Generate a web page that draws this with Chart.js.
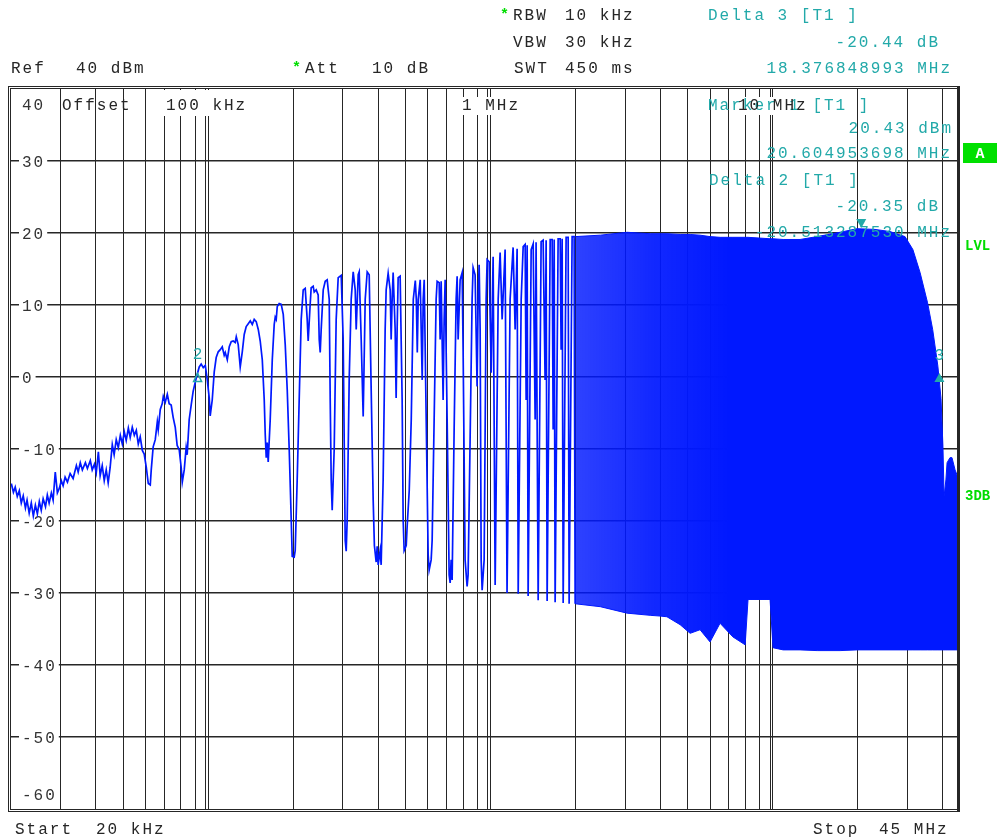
<!DOCTYPE html>
<html>
<head>
<meta charset="utf-8">
<script src="https://cdn.jsdelivr.net/npm/chart.js"></script>
<style>
  html, body { margin: 0; padding: 0; background: #fff; }
  canvas { display: block; }
</style>
</head>
<body>
<canvas id="myChart" width="1000" height="840"></canvas>
<script>
// trace: frequency in kHz, level in dBm
const traceFreq = [
  20.05,20.4,20.7,21.05,21.4,21.75,22.1,22.5,22.8,23.2,
  23.6,24.0,24.4,24.8,25.2,25.6,26.0,26.5,26.9,27.3,
  27.8,28.2,28.7,29.2,29.7,30.15,30.6,31.1,31.7,32.4,
  33.2,34.1,34.6,35.2,35.8,36.7,37.3,38.2,38.8,39.5,
  40.1,40.8,41.4,42.1,42.8,43.5,44.2,44.9,45.7,46.4,
  47.2,48.0,48.8,49.6,50.4,51.2,52.1,52.9,53.8,54.7,
  55.6,56.5,57.4,58.4,59.3,60.3,61.3,62.3,62.8,63.8,
  64.9,66.0,66.5,67.6,68.7,69.3,70.4,71.6,72.7,73.9,
  75.1,76.4,77.6,78.9,80.2,80.9,82.2,83.5,84.2,85.6,
  87.0,88.4,90.7,92.9,94.4,96.0,97.6,99.2,100.8,101.6,
  103.3,105.0,106.7,108.5,110.3,112.1,113.9,114.9,116.8,118.7,
  120.6,122.6,124.6,125.7,127.7,129.8,132.0,134.1,136.3,138.6,
  140.9,143.2,145.5,147.9,150.4,152.8,155.4,157.9,159.2,160.5,
  161.8,163.1,165.8,168.6,171.3,172.7,174.1,175.6,178.4,181.4,
  184.4,187.4,190.5,193.6,196.8,198.4,201.6,203.3,206.6,210.0,
  213.5,217.0,220.6,224.2,226.0,229.7,231.6,235.4,237.4,241.3,
  245.2,247.3,249.3,251.3,255.5,259.7,263.9,268.3,270.5,272.7,
  274.9,279.4,284.0,288.7,295.9,300.7,305.7,308.2,310.7,315.8,
  321.0,326.3,331.7,334.4,339.9,342.7,348.3,354.0,359.9,365.8,
  371.8,377.9,384.1,387.9,393.6,396.9,400.0,406.6,409.9,416.6,
  423.5,427.0,434.0,441.2,444.8,448.4,452.0,459.5,463.2,467.0,
  470.9,478.6,486.5,490.5,494.5,502.9,507.0,515.4,524.0,532.8,
  541.6,546.0,550.5,554.6,563.7,568.3,573.0,577.6,582.4,592.0,
  601.5,606.4,616.4,621.4,631.6,642.0,647.3,658.0,663.3,668.8,
  679.7,685.3,691.0,702.3,713.8,719.7,725.6,731.5,743.5,755.8,
  762.0,768.2,780.9,793.8,800.0,813.1,826.6,833.3,847.0,861.0,
  868.0,882.3,896.8,904.4,911.8,919.3,926.9,934.4,949.8,965.5,
  973.4,989.4,1006,1022,1039,1065,1082,1100,1127,1145,
  1174,1203,1223,1243,1254,1285,1306,1327,1338,1349,
  1360,1394,1417,1440,1451,1476,1512,1537,1562,1575,
  1588,1628,1654,1668,1682,1695,1737,1766,1780,1795,
  1810,1854,1885,1900,1947,1979,1996
];
const traceLevel = [
  -14.8,-16.0,-15.3,-16.6,-15.8,-17.5,-16.5,-18.2,-17.1,-18.9,
  -17.5,-19.3,-17.8,-19.0,-17.3,-18.5,-16.9,-18.0,-16.4,-17.5,
  -16.1,-17.1,-13.2,-16.1,-15.4,-14.4,-15.1,-13.9,-14.6,-13.4,
  -14.1,-12.3,-13.2,-11.9,-12.9,-11.9,-12.7,-11.6,-12.9,-12.1,
  -13.3,-10.4,-13.7,-12.3,-14.4,-12.9,-14.7,-12.6,-9.4,-10.8,
  -8.7,-9.8,-8.1,-9.3,-7.6,-8.8,-7.1,-8.4,-7.0,-8.1,
  -7.4,-9.3,-8.3,-10.2,-10.7,-12.5,-14.8,-15.0,-12.9,-9.7,
  -8.7,-6.2,-7.3,-4.5,-3.7,-2.7,-3.5,-2.4,-3.7,-3.9,
  -5.6,-7.0,-9.5,-10.1,-12.6,-14.6,-12.9,-9.8,-10.8,-5.9,
  -3.9,-2.0,-0.1,1.4,1.8,1.3,1.6,-0.4,-2.9,-5.4,
  -3.2,0.7,2.7,3.5,3.8,4.2,3.0,3.4,2.4,4.2,
  4.9,5.0,4.8,5.6,4.5,1.4,3.5,5.9,7.0,7.4,
  7.8,7.3,8.0,7.7,6.6,5.0,2.4,-3.2,-8.0,-11.2,
  -9.1,-11.8,-5.9,2.4,7.3,8.3,8.0,9.8,10.2,10.1,
  8.7,4.5,-1.8,-10.1,-19.8,-24.9,-25.0,-24.1,-14.3,-3.2,
  8.0,12.1,12.3,8.0,5.0,10.1,12.4,12.6,11.8,12.1,
  11.4,5.2,3.4,6.6,12.1,13.3,13.5,10.8,-3.2,-14.3,
  -18.5,-10.1,8.0,13.8,14.1,5.2,-22.7,-24.2,-19.8,-0.4,
  10.8,14.6,12.1,6.6,14.2,14.6,5.2,-5.5,10.8,14.6,
  14.2,-1.8,-17.1,-23.4,-25.7,-23.5,-26.1,-24.1,-26.1,-14.3,
  6.6,12.1,14.4,12.1,5.2,10.8,14.5,6.6,-2.9,6.6,
  13.8,14.0,-3.2,-19.8,-24.1,-23.4,-20.6,-15.8,-5.9,10.8,
  13.4,10.8,3.4,10.8,13.5,6.6,-0.4,10.8,13.5,-5.9,
  -24.7,-26.8,-25.4,-22.7,-5.9,10.8,13.3,13.1,5.2,13.3,
  -3.2,8.0,13.5,-5.9,-27.5,-28.6,-25.4,-28.2,-7.3,10.8,
  14.0,5.2,13.5,14.5,3.8,-25.4,-29.1,-27.5,-8.7,10.8,
  15.2,14.2,-1.3,10.8,15.6,6.6,-25.4,-29.6,-25.4,10.8,
  16.3,16.0,0.6,16.7,-28.9,10.8,17.3,8.0,17.7,-30.0,
  10.8,18.0,6.6,17.8,-30.1,10.8,18.1,18.4,-3.2,18.3,
  -30.4,17.7,18.5,-5.9,18.7,-31.0,18.8,19.0,-0.4,19.0,
  -31.1,19.1,19.1,-7.3,19.1,-31.3,19.2,19.2,3.8,19.2,
  -31.4,19.4,19.4,-31.5,19.5,19.5,-31.5
];

// above 2 MHz the trace is too dense to follow: upper and lower edge (MHz, dBm)
const bandFreq = [2.0,2.45,3.05,3.68,3.99,4.22,4.70,5.10,5.53,6.0,
  6.51,7.23,7.99,8.18,9.79,10.03,10.89,12.5,14.37,17.33,
  19.9,23.05,26.05,29.44,31.4,33.3,35.4,36.9,38.5,39.5,
  40.13,40.5,41.1,41.5,42.5,43.2,44.3,45];
const bandTop = [19.5,19.7,20.1,19.9,19.9,19.9,19.8,19.8,19.7,19.5,
  19.4,19.4,19.4,19.4,19.2,19.2,19.1,19.1,19.5,20.1,
  20.6,20.5,20.2,19.5,17.7,14.5,10.3,6.6,1.5,-3.0,
  -9.7,-16.6,-14.3,-11.9,-11.2,-11.2,-12.9,-13.6];
const bandBottom = [-31.5,-31.9,-32.8,-33.1,-33.2,-33.3,-34.4,-35.6,-35.1,-36.8,
  -34.2,-36.1,-37.2,-30.9,-30.9,-37.6,-37.9,-37.9,-38.0,-38.0,
  -37.9,-37.9,-37.9,-37.9,-37.9,-37.9,-37.9,-37.9,-37.9,-37.9,
  -37.9,-37.9,-37.9,-37.9,-37.9,-37.9,-37.9,-37.9];

// grid (kHz) and level labels
const xGrid = [30,40,50,60,70,80,90,100,200,300,400,500,600,700,800,900,
  1000,2000,3000,4000,5000,6000,7000,8000,9000,10000,20000,30000,40000];
const decadeLines = [100, 1000, 10000];
const yGrid = [30,20,10,0,-10,-20,-30,-40,-50];
const yLabels = [40,30,20,10,0,-10,-20,-30,-40,-50,-60];

// markers: 1 = marker, 2 and 3 = delta markers (MHz, dBm)
const markerFreq = [20.604953698, 0.091666168, 38.981802691];
const markerLevel = [20.43, 0.08, -0.01];

const BLUE = '#0018ff';
const TEAL = '#22a9a9';
const GREEN = '#00dd00';
const INK = '#262626';
const MONO = '"Liberation Mono", "DejaVu Sans Mono", monospace';

function put(ctx, s, x, y, color, align) {
  ctx.fillStyle = color;
  ctx.textAlign = align || 'left';
  ctx.fillText(s, align === 'right' ? x + 2 : x, y);
}

function vline(ctx, x, y0, y1) {
  ctx.beginPath();
  ctx.moveTo(x, y0);
  ctx.lineTo(x, y1);
  ctx.stroke();
}

const screenPlugin = {
  id: 'screen',
  beforeDatasetsDraw(chart) {
    const { ctx, chartArea: a, scales: { x, y } } = chart;
    ctx.save();
    // decade lines are doubled on the screen
    ctx.strokeStyle = INK;
    ctx.lineWidth = 1;
    decadeLines.forEach(v => {
      const px = Math.round(x.getPixelForValue(v * 1000)) - 2.5;
      vline(ctx, px, a.top, a.bottom);
    });
    // label boxes on the top row
    ctx.fillStyle = '#fff';
    ctx.fillRect(163, a.top + 1, 51, 26);
    ctx.fillRect(459, a.top + 8, 66, 18);
    ctx.fillRect(736, a.top + 8, 74, 18);

    ctx.font = '16px ' + MONO;
    ctx.letterSpacing = '2px';
    yLabels.forEach(v => {
      let py = y.getPixelForValue(v);
      if (v === 40) py += 15;
      if (v === -60) py -= 15;
      const w = ctx.measureText(String(v)).width;
      ctx.fillStyle = '#fff';
      ctx.fillRect(19, py - 7, w + 5, 14);
      put(ctx, String(v), 22, py + 5.5, '#333');
    });
    put(ctx, 'Offset', 62, 110, INK);
    put(ctx, '100 kHz', 166, 110, INK);
    put(ctx, '1 MHz', 462, 110, INK);
    ctx.restore();
  },
  afterDraw(chart) {
    const { ctx, chartArea: a, scales: { x, y } } = chart;
    ctx.save();
    // double frame
    ctx.strokeStyle = INK;
    ctx.lineWidth = 1;
    ctx.strokeRect(Math.round(a.left) - 0.5, Math.round(a.top) - 0.5,
      Math.round(a.right - a.left) + 1, Math.round(a.bottom - a.top) + 1);
    ctx.strokeRect(Math.round(a.left) - 2.5, Math.round(a.top) - 2.5,
      Math.round(a.right - a.left) + 5, Math.round(a.bottom - a.top) + 5);
    ctx.lineWidth = 2;
    vline(ctx, Math.round(a.right) + 1, a.top - 3, a.bottom + 3);

    // markers
    const px = markerFreq.map(f => x.getPixelForValue(f * 1e6));
    const py = markerLevel.map(v => y.getPixelForValue(v));
    ctx.fillStyle = TEAL;
    ctx.strokeStyle = TEAL;
    ctx.beginPath();
    ctx.moveTo(px[0], py[0] - 2);
    ctx.lineTo(px[0] - 5, py[0] - 11);
    ctx.lineTo(px[0] + 5, py[0] - 11);
    ctx.closePath();
    ctx.fill();
    ctx.lineWidth = 1.5;
    ctx.beginPath();
    ctx.moveTo(px[1], py[1] - 3);
    ctx.lineTo(px[1] - 4, py[1] + 5);
    ctx.lineTo(px[1] + 4, py[1] + 5);
    ctx.closePath();
    ctx.stroke();
    ctx.beginPath();
    ctx.moveTo(px[2], py[2] - 4);
    ctx.lineTo(px[2] - 5, py[2] + 5);
    ctx.lineTo(px[2] + 5, py[2] + 5);
    ctx.closePath();
    ctx.fill();
    ctx.font = '16px ' + MONO;
    put(ctx, '2', px[1], py[1] - 17, TEAL, 'center');
    put(ctx, '3', px[2], py[2] - 17, TEAL, 'center');

    // header and marker read-outs
    ctx.font = '16px ' + MONO;
    ctx.letterSpacing = '2px';
    put(ctx, 'RBW', 513, 20, INK);
    put(ctx, '10 kHz', 565, 20, INK);
    put(ctx, 'VBW', 513, 47, INK);
    put(ctx, '30 kHz', 565, 47, INK);
    put(ctx, 'SWT', 514, 73, INK);
    put(ctx, '450 ms', 565, 73, INK);
    put(ctx, 'Ref', 11, 73, INK);
    put(ctx, '40 dBm', 76, 73, INK);
    put(ctx, 'Att', 305, 73, INK);
    put(ctx, '10 dB', 372, 73, INK);
    put(ctx, 'Start', 15, 834, INK);
    put(ctx, '20 kHz', 96, 834, INK);
    put(ctx, 'Stop', 813, 834, INK);
    put(ctx, '45 MHz', 879, 834, INK);

    put(ctx, 'Delta 3 [T1 ]', 708, 20, TEAL);
    put(ctx, '-20.44 dB', 938, 47, TEAL, 'right');
    put(ctx, '18.376848993 MHz', 950, 73, TEAL, 'right');
    put(ctx, 'Marker 1 [T1 ]', 708, 110, TEAL);
    put(ctx, '20.43 dBm', 951, 133, TEAL, 'right');
    put(ctx, '20.604953698 MHz', 950, 158, TEAL, 'right');
    put(ctx, 'Delta 2 [T1 ]', 709, 185, TEAL);
    put(ctx, '-20.35 dB', 938, 211, TEAL, 'right');
    put(ctx, '-20.513287530 MHz', 950, 237, TEAL, 'right');
    put(ctx, '10 MHz', 738, 110, INK);

    ctx.letterSpacing = '0px';
    ctx.font = 'bold 15px ' + MONO;
    put(ctx, '*', 500, 19, GREEN);
    put(ctx, '*', 292, 72, GREEN);
    ctx.fillStyle = '#00e000';
    ctx.fillRect(963, 143, 34, 20);
    put(ctx, 'A', 980, 158, '#fff', 'center');
    ctx.font = 'bold 14px ' + MONO;
    put(ctx, 'LVL', 965, 250, GREEN);
    put(ctx, '3DB', 965, 500, GREEN);
    ctx.restore();
  }
};

function bandFill(context) {
  const chart = context.chart;
  if (!chart.chartArea) return BLUE;
  const xs = chart.scales.x;
  const g = chart.ctx.createLinearGradient(xs.getPixelForValue(2e6), 0, xs.getPixelForValue(7e6), 0);
  g.addColorStop(0, 'rgba(0,24,255,0.82)');
  g.addColorStop(0.5, 'rgba(0,24,255,0.93)');
  g.addColorStop(1, 'rgba(0,24,255,1)');
  return g;
}

const ctx = document.getElementById('myChart');
const myChart = new Chart(ctx, {
  type: 'line',
  data: {
    datasets: [{
      label: 'Trace 1',
      data: traceFreq.map((f, i) => ({ x: f * 1000, y: traceLevel[i] })),
      borderColor: BLUE,
      borderWidth: 1.7,
      pointRadius: 0,
      tension: 0,
      fill: false
    }, {
      label: 'upper',
      data: bandFreq.map((f, i) => ({ x: f * 1e6, y: bandTop[i] })),
      borderColor: BLUE,
      borderWidth: 1,
      pointRadius: 0,
      tension: 0,
      fill: '+1',
      backgroundColor: bandFill
    }, {
      label: 'lower',
      data: bandFreq.map((f, i) => ({ x: f * 1e6, y: bandBottom[i] })),
      borderColor: BLUE,
      borderWidth: 1,
      pointRadius: 0,
      tension: 0,
      fill: false
    }]
  },
  options: {
    responsive: false,
    animation: false,
    devicePixelRatio: 1,
    layout: { padding: { left: 11, right: 43, top: 89, bottom: 31 } },
    plugins: { legend: { display: false }, tooltip: { enabled: false } },
    scales: {
      x: {
        type: 'logarithmic',
        min: 20000,
        max: 45e6,
        afterBuildTicks: scale => { scale.ticks = xGrid.map(v => ({ value: v * 1000 })); },
        ticks: { display: false },
        grid: { color: INK, lineWidth: 1, drawTicks: false },
        border: { display: false }
      },
      y: {
        type: 'linear',
        min: -60,
        max: 40,
        afterBuildTicks: scale => { scale.ticks = yGrid.map(v => ({ value: v })); },
        ticks: { display: false },
        grid: { color: INK, lineWidth: 1.5, drawTicks: false },
        border: { display: false }
      }
    }
  },
  plugins: [screenPlugin]
});
</script>
</body>
</html>
